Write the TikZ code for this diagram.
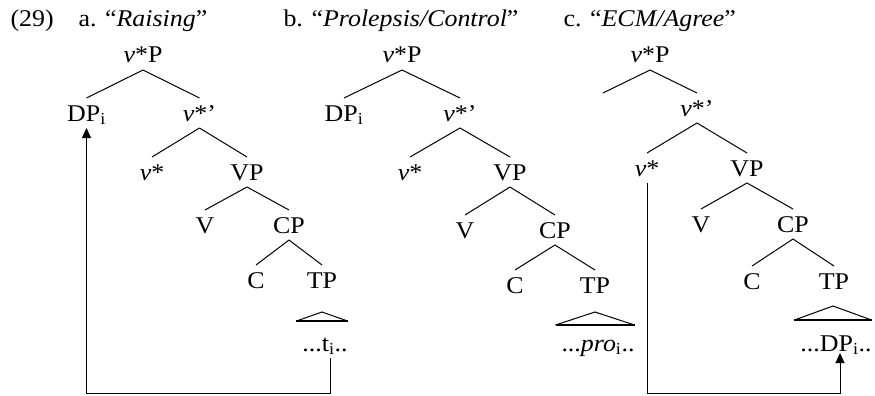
\documentclass[tikz,border=0pt]{standalone}
\usepackage{fontspec}
\setmainfont{Liberation Serif}[FakeStretch=1.08]
\usetikzlibrary{trees}
\usetikzlibrary{arrows.meta}

\newcommand{\idx}[1]{\textsubscript{#1}}
\newcommand{\vstar}{\textit{v}*}

\begin{document}
\begin{tikzpicture}[x=1pt, y=-1pt, line width=1pt,
			every node/.style={font=\fontsize{24}{28}\selectfont},
			cat/.style={inner sep=0pt, outer xsep=0pt, outer ysep=7pt, text height=16pt, text depth=0pt},
			head/.style={anchor=base west, inner sep=0pt},
			every child node/.style={cat},
			edge from parent path={(\tikzparentnode.south) -- (\tikzchildnode.north)}]
			\useasboundingbox (0,0) rectangle (875,396);
			\node[head] (num) at (10,27) {(29)};
			\node[head] (headA) at (78,27) {a. “\textit{Raising}”};
			\node[head] (headB) at (283,27) {b. “\textit{Prolepsis/Control}”};
			\node[head] (headC) at (563,27) {c. “\textit{ECM/Agree}”};
			% a. raising
			\node[cat] (aTop) at (143,55) {\vstar P}
			[level distance=58pt, sibling distance=113pt]
			child{node(aDP){DP\idx{i}}}
			child{node(aBar){\vstar’}
				[level distance=59pt, sibling distance=95pt]
				child{node(aHead){\vstar}}
				child{node(aVP){VP}
					[level distance=53pt, sibling distance=84pt]
					child{node(aV){V}}
					child{node(aCP){CP}
						[level distance=55pt, sibling distance=66pt]
						child{node(aC){C}}
						child{node(aTP){TP}
							[level distance=63pt]
							child{node[xshift=3pt](aLeaf){...t\idx{i}..} edge from parent[draw=none]}}}}};
			% b. prolepsis/control
			\node[cat] (bTop) at (402,55) {\vstar P}
			[level distance=58pt, sibling distance=116pt]
			child{node(bDP){DP\idx{i}}}
			child{node(bBar){\vstar’}
				[level distance=59pt, sibling distance=100pt]
				child{node(bHead){\vstar}}
				child{node(bVP){VP}
					[level distance=58pt, sibling distance=90pt]
					child{node(bV){V}}
					child{node(bCP){CP}
						[level distance=55pt, sibling distance=80pt]
						child{node(bC){C}}
						child{node(bTP){TP}
							[level distance=58pt]
							child{node[xshift=3pt](bLeaf){...\textit{pro}\idx{i}..} edge from parent[draw=none]}}}}};
			% c. ecm/agree
			\node[cat] (cTop) at (650,55) {\vstar P}
			[level distance=53pt, sibling distance=94pt]
			child{node(cSpec){}}
			child{node(cBar){\vstar’}
				[level distance=60pt, sibling distance=100pt]
				child{node(cHead){\vstar}}
				child{node(cVP){VP}
					[level distance=56pt, sibling distance=92pt]
					child{node(cV){V}}
					child{node(cCP){CP}
						[level distance=57pt, sibling distance=82pt]
						child{node(cC){C}}
						child{node(cTP){TP}
							[level distance=62pt]
							child{node[xshift=2pt](cLeaf){...DP\idx{i}..} edge from parent[draw=none]}}}}};
			% roofs over the leaves
			\foreach \tr/\lo/\hi in {a/7/16, b/3/16, c/8/22}{
				\draw ([xshift=-6pt, yshift=\lo pt]\tr Leaf.north west) -- ([xshift=-3pt, yshift=\hi pt]\tr Leaf.north) -- ([yshift=\lo pt]\tr Leaf.north east);
				\draw[line width=2.5pt] ([xshift=-6pt, yshift=\lo pt]\tr Leaf.north west) -- ([yshift=\lo pt]\tr Leaf.north east);
			}
			\path[draw, -{Triangle[length=10pt, width=9pt]}] ([xshift=5pt]aLeaf.south) -- ++(0,35) -| (aDP.south);
			\path[draw, -{Triangle[length=10pt, width=9pt]}] (cHead.south) -- ++(0,210) -| ([xshift=4pt, yshift=5pt]cLeaf.south);
	\end{tikzpicture}
\end{document}
